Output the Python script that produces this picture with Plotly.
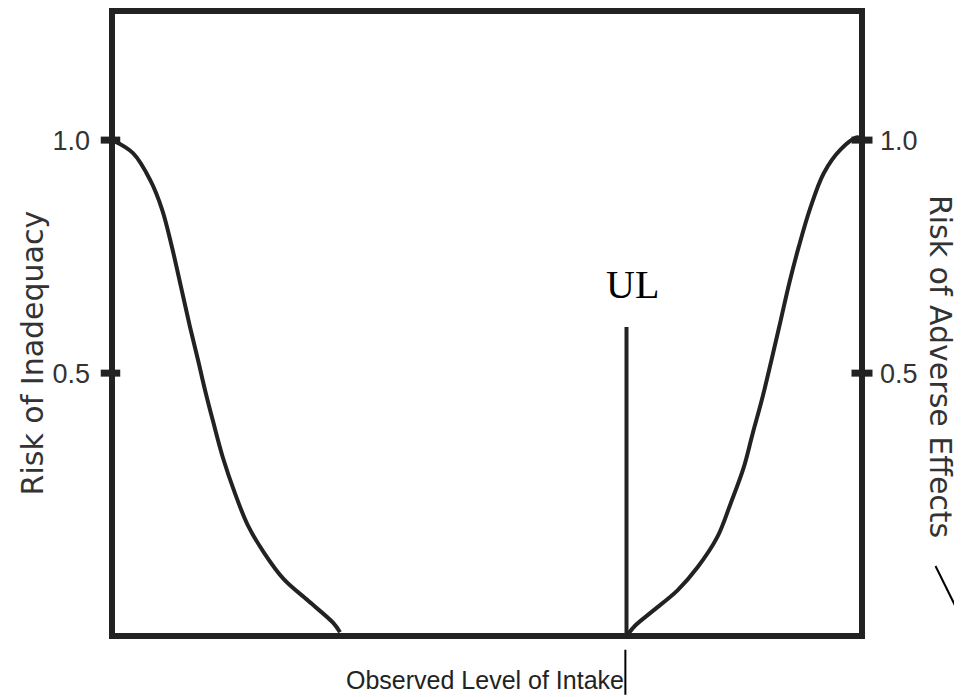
import plotly.graph_objects as go

# Risk of inadequacy (left curve)
inadequacy_x = [0, 2.8, 5.1, 6.7, 8.0, 9.2, 10.4, 11.5, 12.4, 13.5, 14.8, 16.4,
                18.1, 20.3, 22.9, 26.2, 29.5, 30.4]
inadequacy_y = [1.0, 0.972, 0.914, 0.850, 0.770, 0.685, 0.599, 0.526, 0.464, 0.395,
                0.318, 0.242, 0.174, 0.114, 0.058, 0.011, -0.036, -0.056]

# Risk of adverse effects (right curve)
adverse_x = [68.8, 69.8, 72.2, 75.4, 78.1, 80.7, 82.5, 84.2, 85.4, 86.7, 87.9,
             89.1, 90.3, 91.6, 93.1, 94.9, 97.1, 99.4, 100]
adverse_y = [-0.06, -0.041, -0.009, 0.034, 0.084, 0.148, 0.221, 0.296, 0.369, 0.446,
             0.526, 0.609, 0.693, 0.773, 0.854, 0.929, 0.979, 1.006, 1.0]

# Tolerable upper intake level marker
ul_x = 68.6
ul_top = 0.599

tick_vals = [0.5, 1.0]
tick_text = ["0.5", "1.0"]

y_range = [-0.064, 1.277]
x_range = [0, 100]

ink = "#222222"

fig = go.Figure()

fig.add_trace(go.Scatter(
    x=inadequacy_x, y=inadequacy_y, mode="lines",
    line=dict(color=ink, width=4, shape="spline", smoothing=1.0),
    showlegend=False, hoverinfo="skip"
))
fig.add_trace(go.Scatter(
    x=adverse_x, y=adverse_y, mode="lines",
    line=dict(color=ink, width=4, shape="spline", smoothing=1.0),
    showlegend=False, hoverinfo="skip"
))
# UL vertical line
fig.add_trace(go.Scatter(
    x=[ul_x, ul_x], y=[ul_top, y_range[0]], mode="lines",
    line=dict(color=ink, width=4),
    showlegend=False, hoverinfo="skip"
))
# invisible trace to activate right axis
fig.add_trace(go.Scatter(
    x=[None], y=[None], yaxis="y2", showlegend=False, hoverinfo="skip"
))

tick_font = dict(family="Liberation Sans, Arial", size=27, color="#333333")
title_font = dict(family="DejaVu Sans, Liberation Sans", size=30, color="#333333")

# page body has an 8px margin, so the figure is a little smaller than the window
fig.update_layout(
    width=954, height=689,
    margin=dict(l=104, r=100, t=3, b=61),
    paper_bgcolor="white", plot_bgcolor="white",
    xaxis=dict(range=x_range, showgrid=False, zeroline=False, showticklabels=False,
               ticks="", showline=False, fixedrange=True),
    yaxis=dict(range=y_range, showgrid=False, zeroline=False, tickvals=tick_vals,
               ticktext=tick_text, ticks="", tickfont=tick_font, ticklabelstandoff=21,
               showline=False, automargin=False),
    yaxis2=dict(range=y_range, overlaying="y", side="right", showgrid=False,
                zeroline=False, tickvals=tick_vals, ticktext=tick_text, ticks="",
                tickfont=tick_font, ticklabelstandoff=17, showline=False,
                automargin=False),
)

# frame
fig.add_shape(type="rect", xref="paper", yref="paper", x0=0, x1=1, y0=0, y1=1,
              line=dict(color=ink, width=6), layer="above")

# cross ticks on both sides
for v in tick_vals:
    fig.add_shape(type="line", xref="paper", yref="y", x0=-0.015, x1=0.011, y0=v, y1=v,
                  line=dict(color=ink, width=7), layer="above")
    fig.add_shape(type="line", xref="paper", yref="y", x0=0.986, x1=1.014, y0=v, y1=v,
                  line=dict(color=ink, width=7), layer="above")

# small stroke below the axis next to the x title
fig.add_shape(type="line", xref="paper", yref="paper", x0=0.6845, x1=0.6845,
              y0=-0.022, y1=-0.094, line=dict(color="black", width=2))
# stray diagonal stroke at the lower right
fig.add_shape(type="line", xref="paper", yref="paper", x0=1.098, x1=1.131,
              y0=0.112, y1=0.032, line=dict(color="black", width=2))

fig.add_annotation(
    text="UL", x=69.4, y=0.691, xref="x", yref="y", showarrow=False,
    font=dict(family="Liberation Serif, Times New Roman", size=40, color="black")
)
fig.add_annotation(
    text="Observed Level of Intake", x=0.497, y=-0.07, xref="paper", yref="paper",
    showarrow=False, xanchor="center", yanchor="middle",
    font=dict(family="Liberation Sans, Arial", size=25, color="#222222")
)
fig.add_annotation(
    text="Risk of Inadequacy", x=-0.106, y=0.453, xref="paper", yref="paper",
    showarrow=False, textangle=-90, xanchor="center", yanchor="middle",
    font=title_font
)
fig.add_annotation(
    text="Risk of Adverse Effects", x=1.105, y=0.431, xref="paper", yref="paper",
    showarrow=False, textangle=90, xanchor="center", yanchor="middle",
    font=title_font
)

fig.write_html("out.html")
